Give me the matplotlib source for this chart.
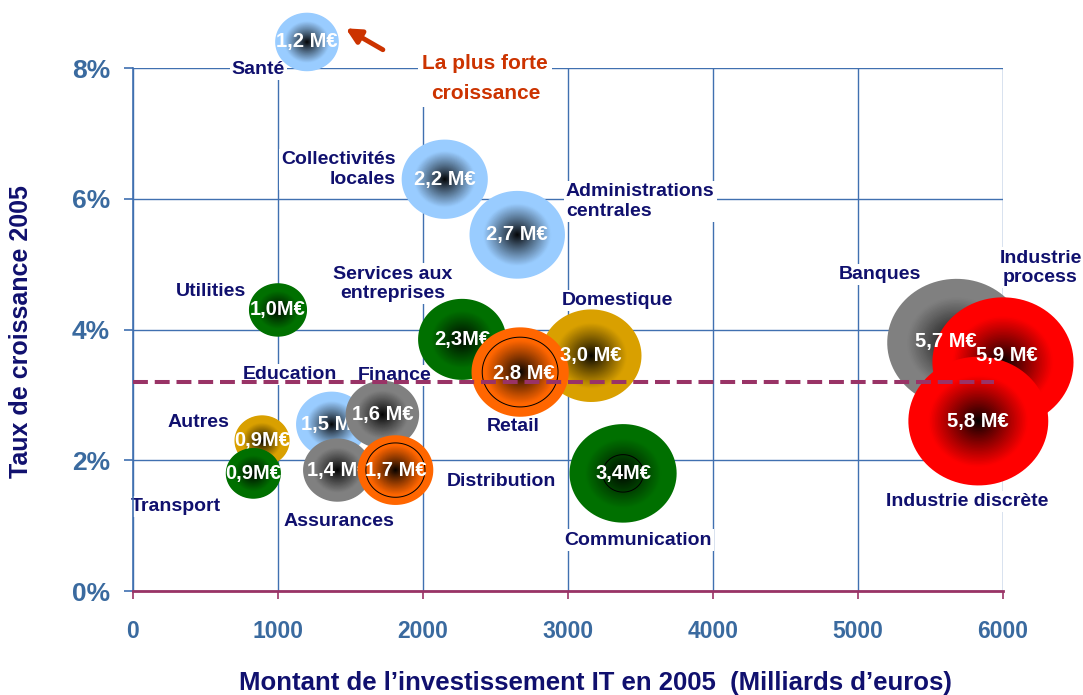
import numpy as np
import matplotlib
matplotlib.use("Agg")
import matplotlib.pyplot as plt
from matplotlib.path import Path
from matplotlib.colors import to_rgb

plt.rcParams['font.family'] = ['Liberation Sans', 'DejaVu Sans']

# Data (drawing order: later bubbles on top)
sectors = ["Santé", "Collectivités\nlocales", "Administrations\ncentrales", "Utilities",
           "Services aux\nentreprises", "Domestique", "Retail", "Education", "Finance",
           "Autres", "Transport", "Assurances", "Distribution", "Communication",
           "Banques", "Industrie\nprocess", "Industrie discrète"]
invest = [1200, 2150, 2650, 1000, 2270, 3160, 2670, 1370, 1720,
          890, 830, 1410, 1810, 3380, 5680, 6000, 5830]
growth = [8.4, 6.3, 5.45, 4.3, 3.85, 3.6, 3.35, 2.55, 2.7,
          2.3, 1.8, 1.85, 1.85, 1.8, 3.8, 3.5, 2.6]
market = [1.2, 2.2, 2.7, 1.0, 2.3, 3.0, 2.8, 1.5, 1.6,
          0.9, 0.9, 1.4, 1.7, 3.4, 5.7, 5.9, 5.8]
value_labels = ["1,2 M€", "2,2 M€", "2,7 M€", "1,0M€", "2,3M€", "3,0 M€", "2,8 M€", "1,5 M€",
                "1,6 M€", "0,9M€", "0,9M€", "1,4 M€", "1,7 M€", "3,4M€", "5,7 M€", "5,9 M€", "5,8 M€"]
avg_growth = 3.2
x_ticks = [0, 1000, 2000, 3000, 4000, 5000, 6000]
y_ticks = [0, 2, 4, 6, 8]

# Styles / layout
BLUE, GREEN, GOLD, GREY, ORANGE, RED = '#99CCFF', '#007000', '#D9A000', '#808080', '#FF6600', '#FF0000'
colours = [BLUE, BLUE, BLUE, GREEN, GREEN, GOLD, ORANGE, BLUE, GREY,
           GOLD, GREEN, GREY, ORANGE, GREEN, GREY, RED, RED]
rings = {6: 0.78, 12: 0.78, 13: 0.38}
# value labels that get partly covered by the next bubbles
covered_values = {4, 7, 9, 11}
# small nudges of value labels (points)
value_nudge = {14: (-8, 1), 15: (3, 5), 6: (3, -1)}
# label offsets in points from bubble centre, and alignment
label_pos = [(-35, -20, 'center'), (-35, 7, 'right'), (35, 24, 'left'), (-48, 13, 'center'),
             (-50, 40, 'center'), (19, 40, 'center'), (-5, -39, 'center'), (-30, 36, 'center'),
             (9, 28, 'center'), (-46, 13, 'center'), (-56, -24, 'center'), (1, -37, 'center'),
             (37, -8, 'left'), (11, -48, 'center'), (-55, 49, 'center'), (27, 68, 'center'),
             (-8, -58, 'center')]

NAVY = '#10106E'
TICK = '#3A6A9F'
GRID = '#4070B0'
MAROON = '#993366'

fig = plt.figure(figsize=(10.83, 6.95), dpi=100)
ax = fig.add_axes([0.1228, 0.1496, 0.8033, 0.7524])
ax.set_xlim(0, 6000)
ax.set_ylim(0, 8)

# elliptical marker (slightly flattened)
theta = np.linspace(0, 2 * np.pi, 100)
ell = Path(np.column_stack([np.cos(theta), 0.92 * np.sin(theta)]), closed=True)

n_layers = 45
for i, (x, y, v) in enumerate(zip(invest, growth, market)):
    base = 1750 * v
    f = np.linspace(1, 0.02, n_layers)
    t = np.clip(f / 0.72, 0, 1) ** 0.9
    edge = np.array(to_rgb(colours[i]))
    cols = t[:, None] * edge[None, :]
    z = 3 + i * 0.1
    ax.scatter([x] * n_layers, [y] * n_layers, s=base * f ** 2, c=cols, marker=ell,
               linewidths=0, zorder=z, clip_on=False)
    if i in rings:
        ax.scatter([x], [y], s=base * rings[i] ** 2, marker=ell, facecolors='none',
                   edgecolors='black', linewidths=0.7, zorder=z + 0.01, clip_on=False)
    nx, ny = value_nudge.get(i, (0, 0))
    ax.annotate(value_labels[i], (x, y), xytext=(nx, ny), textcoords='offset points',
                color='white', fontsize=14.5, fontweight='bold', ha='center', va='center',
                zorder=z + 0.02 if i in covered_values else 9, annotation_clip=False)
    dx, dy, ha = label_pos[i]
    ax.annotate(sectors[i], (x, y), xytext=(dx, dy), textcoords='offset points',
                ha=ha, va='center', multialignment=ha,
                fontsize=14, fontweight='bold', color=NAVY, zorder=2.5,
                bbox=dict(fc='white', ec='none', pad=1.5), annotation_clip=False)

# average growth line
ax.axhline(avg_growth, xmin=0, xmax=0.99, color=MAROON, lw=2.9, dashes=(3.7, 1.7), zorder=10)

# annotation
ax.text(2430, 7.84, "La plus forte\ncroissance", color='#CC3300', fontsize=15, fontweight='bold',
        ha='center', va='center', linespacing=1.75, zorder=2.5,
        bbox=dict(fc='white', ec='none', pad=3))
ax.annotate('', xy=(1450, 8.63), xytext=(1740, 8.26),
            arrowprops=dict(arrowstyle='-|>', color='#CC3300', lw=3.5, mutation_scale=22),
            annotation_clip=False, zorder=10)

# axes styling
ax.set_xticks(x_ticks)
ax.set_yticks(y_ticks)
ax.set_yticklabels([f"{t}%" for t in y_ticks])
ax.grid(True, color=GRID, lw=1)
ax.set_axisbelow(True)
for s in ['top', 'right']:
    ax.spines[s].set_visible(False)
ax.spines['left'].set_color(GRID)
ax.spines['left'].set_linewidth(1.2)
ax.spines['bottom'].set_color(MAROON)
ax.spines['bottom'].set_linewidth(2)
ax.tick_params(axis='x', colors=MAROON, length=6, width=1.2, pad=15,
               labelsize=16.5, labelcolor=TICK)
ax.tick_params(axis='y', colors=GRID, length=6.5, width=1.2, pad=10,
               labelsize=19, labelcolor=TICK)
for lab in ax.get_xticklabels() + ax.get_yticklabels():
    lab.set_fontweight('bold')

ax.set_xlabel("Montant de l’investissement IT en 2005  (Milliards d’euros)",
              fontsize=18.5, fontweight='bold', color=NAVY)
ax.xaxis.set_label_coords(0.531, -0.176)
ax.xaxis.label.set_va('center')
ax.set_ylabel("Taux de croissance 2005", fontsize=18, fontweight='bold', color=NAVY)
ax.yaxis.set_label_coords(-0.129, 0.497)
ax.yaxis.label.set_va('center')

fig.savefig("out.png", dpi=100)
